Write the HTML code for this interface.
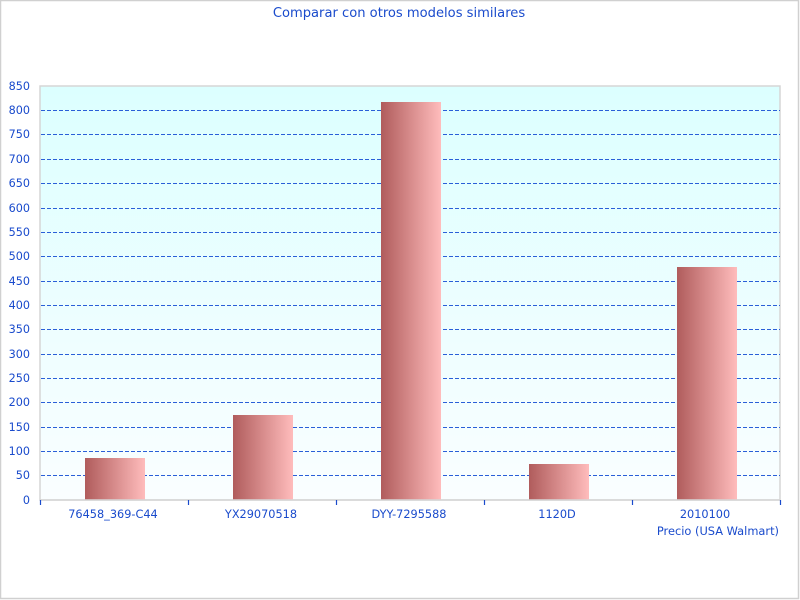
<!DOCTYPE html>
<html><head><meta charset="utf-8"><style>
html,body{margin:0;padding:0;background:#fff;}
svg{display:block;}
text{font-family:"DejaVu Sans","Liberation Sans",sans-serif;fill:#1a4bcc;}
</style></head><body>
<svg width="800" height="600" viewBox="0 0 800 600" xmlns="http://www.w3.org/2000/svg">
<defs>
<linearGradient id="bg" x1="0" y1="0" x2="0" y2="1">
<stop offset="0" stop-color="#dcffff"/>
<stop offset="1" stop-color="#fafeff"/>
</linearGradient>
<linearGradient id="bar" x1="0" y1="0" x2="1" y2="0">
<stop offset="0" stop-color="#b05c5c"/>
<stop offset="1" stop-color="#ffbcbc"/>
</linearGradient>
</defs>
<rect x="0.5" y="0.5" width="798" height="598" fill="#fff" stroke="#d0d0d0" stroke-width="1.5"/>
<text x="399" y="17" font-size="13.1" text-anchor="middle">Comparar con otros modelos similares</text>
<rect x="40" y="86" width="740" height="414" fill="url(#bg)" stroke="#d6d6d6" stroke-width="1.5"/>
<g stroke="#2a5fd8" stroke-width="1.1" stroke-dasharray="4,2">
<line x1="41" x2="780" y1="110.5" y2="110.5"/>
<line x1="41" x2="780" y1="134.5" y2="134.5"/>
<line x1="41" x2="780" y1="159.5" y2="159.5"/>
<line x1="41" x2="780" y1="183.5" y2="183.5"/>
<line x1="41" x2="780" y1="208.5" y2="208.5"/>
<line x1="41" x2="780" y1="232.5" y2="232.5"/>
<line x1="41" x2="780" y1="256.5" y2="256.5"/>
<line x1="41" x2="780" y1="281.5" y2="281.5"/>
<line x1="41" x2="780" y1="305.5" y2="305.5"/>
<line x1="41" x2="780" y1="329.5" y2="329.5"/>
<line x1="41" x2="780" y1="354.5" y2="354.5"/>
<line x1="41" x2="780" y1="378.5" y2="378.5"/>
<line x1="41" x2="780" y1="402.5" y2="402.5"/>
<line x1="41" x2="780" y1="427.5" y2="427.5"/>
<line x1="41" x2="780" y1="451.5" y2="451.5"/>
<line x1="41" x2="780" y1="475.5" y2="475.5"/>
</g>
<g fill="url(#bar)">
<rect x="85" y="458" width="60" height="42"/>
<rect x="233" y="415" width="60" height="85"/>
<rect x="381" y="102" width="60" height="398"/>
<rect x="529" y="464" width="60" height="36"/>
<rect x="677" y="267" width="60" height="233"/>
</g>
<line x1="40" x2="780" y1="500" y2="500" stroke="#d6d6d6" stroke-width="1.5"/>
<g stroke="#1a4bcc" stroke-width="1.2">
<line x1="40.5" x2="40.5" y1="500" y2="505"/>
<line x1="188.5" x2="188.5" y1="500" y2="505"/>
<line x1="336.5" x2="336.5" y1="500" y2="505"/>
<line x1="484.5" x2="484.5" y1="500" y2="505"/>
<line x1="632.5" x2="632.5" y1="500" y2="505"/>
<line x1="780.5" x2="780.5" y1="500" y2="505"/>
</g>
<g font-size="11.2" text-anchor="end">
<text x="30" y="90">850</text>
<text x="30" y="114">800</text>
<text x="30" y="138">750</text>
<text x="30" y="163">700</text>
<text x="30" y="187">650</text>
<text x="30" y="212">600</text>
<text x="30" y="236">550</text>
<text x="30" y="260">500</text>
<text x="30" y="285">450</text>
<text x="30" y="309">400</text>
<text x="30" y="333">350</text>
<text x="30" y="358">300</text>
<text x="30" y="382">250</text>
<text x="30" y="406">200</text>
<text x="30" y="431">150</text>
<text x="30" y="455">100</text>
<text x="30" y="479">50</text>
<text x="30" y="504">0</text>
</g>
<g font-size="11.3" text-anchor="middle">
<text x="113" y="518">76458_369-C44</text>
<text x="261" y="518">YX29070518</text>
<text x="409" y="518">DYY-7295588</text>
<text x="557" y="518">1120D</text>
<text x="705" y="518">2010100</text>
</g>
<text x="779" y="535" font-size="11.4" text-anchor="end">Precio (USA Walmart)</text>
</svg>
</body></html>
